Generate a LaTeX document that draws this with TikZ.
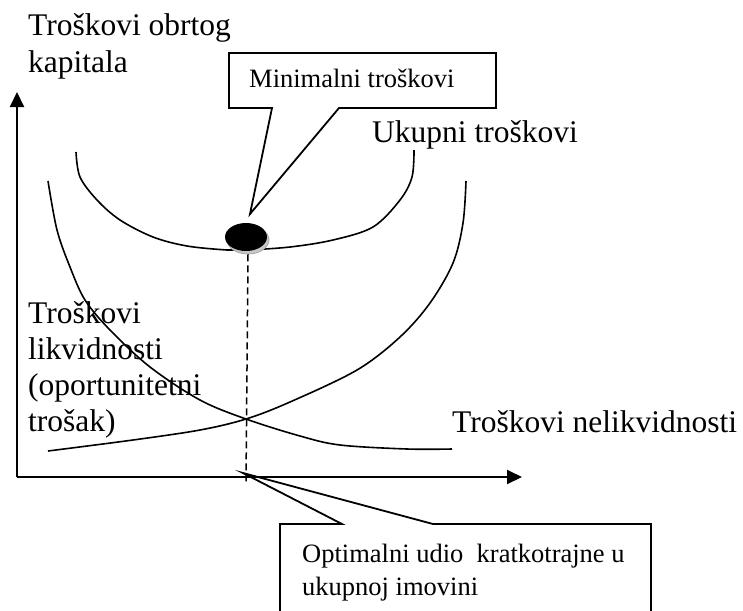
\documentclass[tikz,border=0pt]{standalone}
\usepackage{fontspec}
\setmainfont{Liberation Serif}
\usetikzlibrary{arrows.meta,shapes.geometric}
\begin{document}
\begin{tikzpicture}[x=1pt,y=-1pt,
  big/.style={font=\fontsize{31.5}{36}\selectfont, inner sep=0pt, anchor=base west},
  small/.style={font=\fontsize{26.5}{33}\selectfont, inner sep=0pt, anchor=base west},
  curve/.style={line width=1.6pt},
  axis/.style={line width=2pt,-{Triangle[length=15pt,width=14pt]}},
  callout/.style={line width=1.8pt, line join=miter},
  dotshape/.style={ellipse, minimum width=42pt, minimum height=28pt, inner sep=0pt}]
\useasboundingbox (0,0) rectangle (743,610);
\clip (0,0) rectangle (743,610);

% curves
\draw[curve] plot[smooth, tension=0.55] coordinates {(76,152) (80,177) (97,200) (120,220) (153,237) (187,246) (227,250) (246,250) (290,247) (333,240) (373,227) (400,200) (412,177) (414,150)};
\draw[curve] plot[smooth, tension=0.55] coordinates {(48,451) (133,440) (200,430) (246,419) (290,402) (357,370) (400,337) (430,303) (453,263) (463,223) (466,181)};
\draw[curve] plot[smooth, tension=0.55] coordinates {(48,181) (57,230) (70,267) (85,300) (110,330) (150,367) (200,400) (246,419) (300,436) (340,445) (407,449) (452,449)};

% minimum point
\node[dotshape, fill=gray!45, draw=gray!70, line width=0.8pt] (dotsh) at (248,240) {};
\node[dotshape, fill=black] (dot) at (246,237) {};
\coordinate (dbot) at (246,482);
\draw[line width=1.5pt, dash pattern=on 7pt off 4pt] (dotsh.south) -- (dbot);

% axes
\coordinate (O) at (17,477);
\coordinate (ytip) at (17,92);
\coordinate (xtip) at (522,477);
\draw[axis] (O) -- (ytip);
\draw[axis] (O) -- (xtip);

% labels
\node[big] (t1a) at (28,36) {Troškovi obrtog};
\node[big] (t1b) at (28,72) {kapitala};
\node[big] (uk) at (372,142) {Ukupni troškovi};
\node[big] (nl) at (452,432) {Troškovi nelikvidnosti};
\node[big] (lk1) at (28,323) {Troškovi};
\node[big] (lk2) at (28,359) {likvidnosti};
\node[big] (lk3) at (28,395) {(oportunitetni};
\node[big] (lk4) at (28,431) {trošak)};

% callout 1
\coordinate (mtip) at (250,214);
\draw[callout] (272,108) -- (229,108) -- (229,53) -- (496,53) -- (496,108) -- (339,108) -- (mtip) -- cycle;
\node[small] (mtxt) at (249,87) {Minimalni troškovi};

% callout 2
\coordinate (otip) at (243,473);
\draw[callout] (280,620) -- (280,524) -- (342,524) -- (otip) -- (433,524) -- (651,524) -- (651,620);
\node[small] (o1) at (302,562) {Optimalni udio~ kratkotrajne u};
\node[small] (o2) at (302,595) {ukupnoj imovini};
\end{tikzpicture}
\end{document}
